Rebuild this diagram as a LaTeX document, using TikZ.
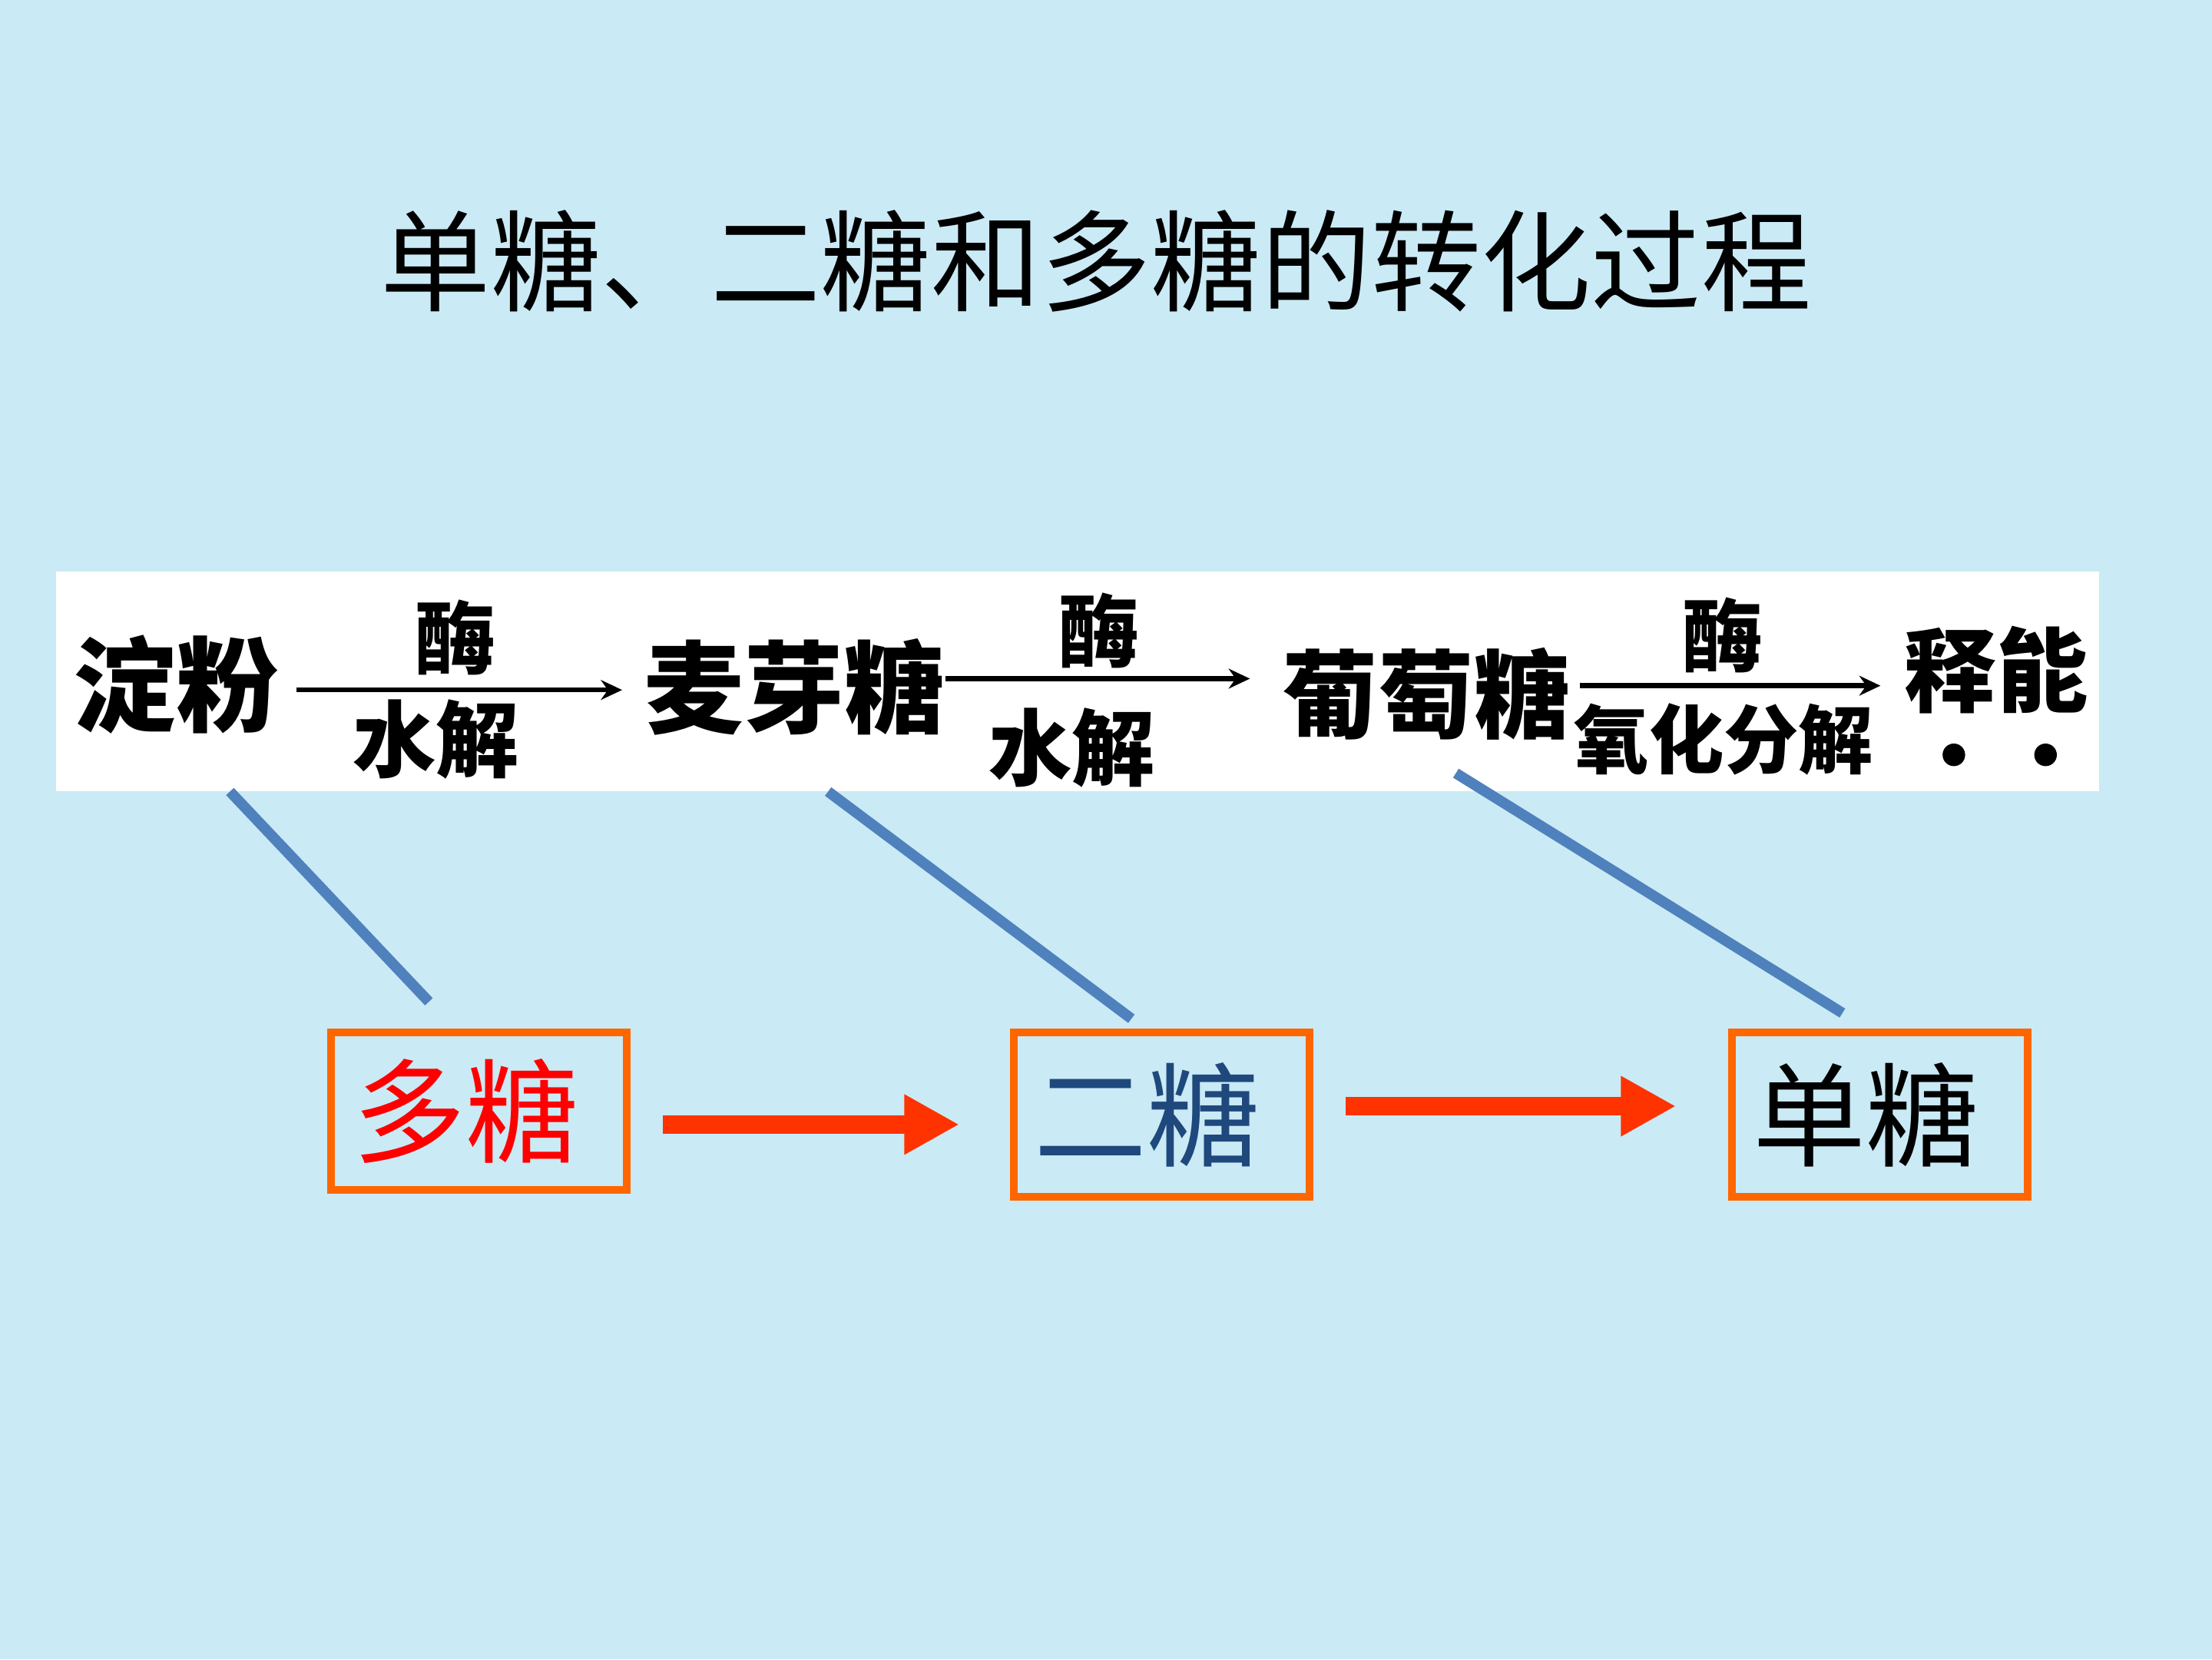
\documentclass[tikz,border=0pt]{standalone}
\usepackage{fontspec}
\setmainfont{Noto Sans CJK SC}
\usetikzlibrary{arrows.meta}
\definecolor{bg}{RGB}{202,234,245}
\definecolor{boxorange}{RGB}{255,102,0}
\definecolor{arrred}{RGB}{255,51,0}
\definecolor{linkblue}{RGB}{79,129,189}
\definecolor{darkblue}{RGB}{31,73,125}
\tikzset{
  txt/.style={inner sep=0pt, outer sep=0pt},
  rowword/.style={txt, font=\fontsize{#1}{#1}\selectfont\bfseries},
  sugarbox/.style={draw=boxorange, line width=5.5pt, minimum width=209.5pt, minimum height=116.5pt, inner sep=0pt, font=\fontsize{80}{82}\selectfont},
  thinarrow/.style={line width=3.5pt, -{Stealth[length=15pt,width=14pt]}},
  bigarrow/.style={draw=arrred, line width=13pt, -{Triangle[length=39pt,width=40pt]}},
  link/.style={draw=linkblue, line width=7.5pt},
}
\begin{document}
\begin{tikzpicture}[x=1pt,y=-1pt]
\fill[bg] (0,0) rectangle (1568,1176);
\useasboundingbox (0,0) rectangle (1568,1176);

% title
\node[txt, font=\fontsize{78}{80}\selectfont] (title) at (777,185) {单糖、二糖和多糖的转化过程};

% white panel
\node[fill=white, minimum width=1448pt, minimum height=156pt, inner sep=0pt, outer sep=0pt] (panel) at (764,483) {};

% row words
\node[rowword=73] (dianfen) at (125,485) {淀粉};
\node[rowword=71] (maiya) at (563,487) {麦芽糖};
\node[rowword=68] (putao) at (1011,492) {葡萄糖};
\node[rowword=65] (shineng) at (1415,475) {释能};
\fill (1385,535) circle[radius=8pt];
\fill (1450,535) circle[radius=8pt];

% labels on thin arrows
\node[rowword=57] (mei1) at (323,452) {酶};
\node[rowword=59] (sj1) at (309,524) {水解};
\node[rowword=57] (mei2) at (779,447) {酶};
\node[rowword=59] (sj2) at (760,530) {水解};
\node[rowword=57] (mei3) at (1221,450) {酶};
\node[rowword=53] (yh) at (1222,524) {氧化分解};

% thin arrows
\coordinate (a1s) at (210,489);
\coordinate (a1e) at (441,489);
\coordinate (a2s) at (670,481);
\coordinate (a2e) at (886,481);
\coordinate (a3s) at (1120,486);
\coordinate (a3e) at (1333,486);
\draw[thinarrow] (a1s) -- (a1e);
\draw[thinarrow] (a2s) -- (a2e);
\draw[thinarrow] (a3s) -- (a3e);

% sugar boxes
\node[sugarbox, text=red, minimum height=111.5pt] (b1) at (339.5,787.5) {多糖\kern19pt};
\node[sugarbox, text=darkblue] (b2) at (823.5,790) {二糖\kern21pt};
\node[sugarbox, text=black] (b3) at (1332.5,790) {单糖\kern20pt};

% links
\draw[link] ([xshift=-601pt]panel.south) -- ([xshift=-35.5pt,yshift=19pt]b1.north);
\draw[link] ([xshift=-177pt]panel.south) -- ([xshift=-21.5pt,yshift=7pt]b2.north);
\draw[link] ([xshift=268pt,yshift=13pt]panel.south) -- ([xshift=-26.5pt,yshift=11pt]b3.north);

% big red arrows
\draw[bigarrow] ([xshift=23pt,yshift=-9.5pt]b1.east) -- ([xshift=-36pt,yshift=-7pt]b2.west);
\draw[bigarrow] ([xshift=23pt,yshift=6pt]b2.east) -- ([xshift=-37pt,yshift=6pt]b3.west);
\end{tikzpicture}
\end{document}
